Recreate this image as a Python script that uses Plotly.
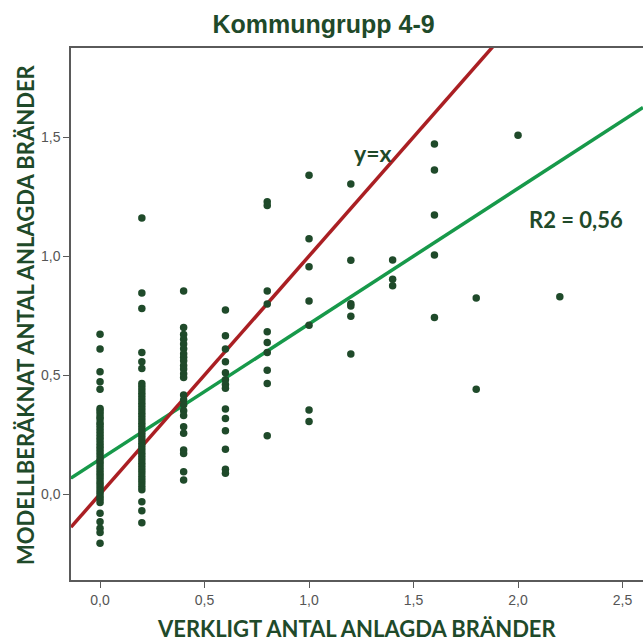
import plotly.graph_objects as go

# ---- data ----
col_x = [0.0, 0.2, 0.4, 0.6, 0.8, 1.0, 1.2, 1.4, 1.6, 1.8, 2.0, 2.2]
col_y = [
    # x = 0.0
    [0.671, 0.609, 0.514, 0.472, 0.44, 0.36, 0.35, 0.338, 0.325, 0.315, 0.30, 0.29, 0.278,
     0.265, 0.252, 0.24, 0.228, 0.215, 0.202, 0.19, 0.178, 0.165, 0.152, 0.14, 0.128, 0.115,
     0.102, 0.09, 0.078, 0.065, 0.052, 0.04, 0.028, 0.015, 0.003, -0.01, -0.022, -0.035,
     -0.081, -0.116, -0.144, -0.161, -0.207],
    # x = 0.2
    [1.16, 0.845, 0.78, 0.595, 0.556, 0.528, 0.465, 0.452, 0.438, 0.424, 0.41, 0.396, 0.382,
     0.368, 0.354, 0.34, 0.326, 0.312, 0.298, 0.284, 0.27, 0.256, 0.242, 0.228, 0.214, 0.2,
     0.186, 0.172, 0.158, 0.144, 0.13, 0.116, 0.102, 0.088, 0.074, 0.06, 0.046, 0.032, 0.018,
     -0.032, -0.07, -0.12],
    # x = 0.4
    [0.853, 0.70, 0.67, 0.65, 0.63, 0.61, 0.59, 0.575, 0.56, 0.54, 0.525, 0.505, 0.49, 0.416,
     0.395, 0.375, 0.35, 0.33, 0.283, 0.256, 0.185, 0.17, 0.094, 0.059],
    # x = 0.6
    [0.773, 0.665, 0.609, 0.556, 0.51, 0.48, 0.46, 0.445, 0.357, 0.318, 0.266, 0.188, 0.104,
     0.087],
    # x = 0.8
    [1.228, 1.212, 0.853, 0.799, 0.682, 0.637, 0.595, 0.52, 0.465, 0.245],
    # x = 1.0
    [1.339, 1.073, 0.955, 0.811, 0.709, 0.353, 0.305],
    # x = 1.2
    [1.303, 0.982, 0.80, 0.79, 0.747, 0.588],
    # x = 1.4
    [0.983, 0.903, 0.875],
    # x = 1.6
    [1.471, 1.361, 1.172, 1.004, 0.742],
    # x = 1.8
    [0.824, 0.44],
    # x = 2.0
    [1.507],
    # x = 2.2
    [0.829],
]

fit_intercept = 0.146
fit_slope = 0.569
r2_text = "R2 = 0,56"

x_ticks = [0.0, 0.5, 1.0, 1.5, 2.0, 2.5]
x_tick_text = ["0,0", "0,5", "1,0", "1,5", "2,0", "2,5"]
y_ticks = [0.0, 0.5, 1.0, 1.5]
y_tick_text = ["0,0", "0,5", "1,0", "1,5"]

x_range = [-0.139, 2.598]
y_range = [-0.361, 1.874]

# ---- build ----
xs, ys = [], []
for xv, yl in zip(col_x, col_y):
    for yv in yl:
        xs.append(xv)
        ys.append(yv)

dot = "#1f4a2a"
W, H = 643, 641
fig = go.Figure()

fig.add_trace(go.Scatter(
    x=x_range, y=[fit_intercept + fit_slope * v for v in x_range],
    mode="lines", line=dict(color="#17994a", width=3.5), hoverinfo="skip"))
fig.add_trace(go.Scatter(
    x=x_range, y=x_range,
    mode="lines", line=dict(color="#aa1f23", width=3.5), hoverinfo="skip"))
fig.add_trace(go.Scatter(
    x=xs, y=ys, mode="markers",
    marker=dict(color=dot, size=7.5, line=dict(width=0))))

fig.add_annotation(x=1.306, y=1.433, text="y=x", showarrow=False,
                   font=dict(family="Lato", size=23, color=dot, weight="bold"))
fig.add_annotation(x=2.278, y=1.155, text=r2_text, showarrow=False,
                   font=dict(family="Lato", size=22, color=dot, weight="bold"))

title_font = dict(family="Lato", size=22, color=dot, weight="bold")
fig.add_annotation(xref="paper", yref="paper", x=(357 - 71) / 572, y=0, yshift=-48,
                   xanchor="center", yanchor="middle", showarrow=False,
                   text="VERKLIGT ANTAL ANLAGDA BRÄNDER", font=title_font)
fig.add_annotation(xref="paper", yref="paper", x=0, xshift=-46, y=(580 - 315) / 532,
                   xanchor="center", yanchor="middle", showarrow=False, textangle=-90,
                   text="MODELLBERÄKNAT ANTAL ANLAGDA BRÄNDER", font=title_font)

axis_common = dict(showgrid=False, zeroline=False, showline=True, automargin=False,
                   linecolor="#5a5a5a", linewidth=1.5, ticks="outside",
                   ticklen=6, tickwidth=1, tickcolor="#5a5a5a",
                   tickfont=dict(family="Liberation Sans", size=14, color="#555555"))

fig.update_layout(
    width=W, height=H,
    margin=dict(l=71, r=0, t=48, b=61, autoexpand=False),
    paper_bgcolor="white", plot_bgcolor="white",
    showlegend=False,
    title=dict(text="Kommungrupp 4-9", x=323.5 / W, xanchor="center", xref="container",
               y=1 - 24 / H, yanchor="middle", yref="container",
               font=dict(family="Liberation Sans", size=25, color=dot, weight="bold")),
    xaxis=dict(range=x_range, tickvals=x_ticks, ticktext=x_tick_text, mirror=True,
               **axis_common),
    yaxis=dict(range=y_range, tickvals=y_ticks, ticktext=y_tick_text, mirror=False,
               **axis_common),
)

fig.write_html("out.html", config={"displayModeBar": False},
               post_script="document.body.style.margin='0';document.body.style.overflow='hidden';")
